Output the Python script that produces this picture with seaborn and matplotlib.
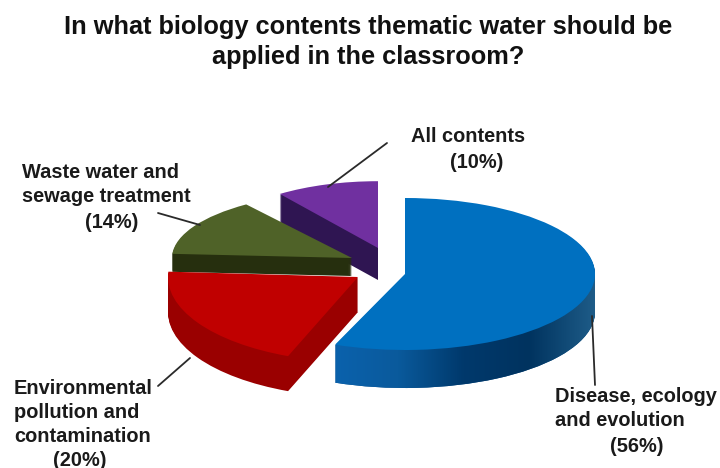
import matplotlib
matplotlib.use("Agg")
import matplotlib.pyplot as plt
import numpy as np
import seaborn as sns
from matplotlib.colors import LinearSegmentedColormap
from matplotlib.lines import Line2D
from matplotlib.path import Path
from matplotlib.transforms import Affine2D

sns.set_theme(style="white")
plt.rcParams["font.family"] = ["Liberation Sans", "DejaVu Sans"]

# Survey shares, clockwise from twelve o'clock
topics = ["Disease, ecology and evolution", "Environmental pollution and contamination",
          "Waste water and sewage treatment", "All contents"]
shares = [56, 20, 14, 10]
top_colors = sns.color_palette(["#0070c0", "#c00000", "#4f6228", "#7030a0"])
wall_colors = sns.color_palette(["#0a4f8a", "#9a0000", "#262f0e", "#2f1552"])
blue_wall_stops = ["#0b62ad", "#0a5a9c", "#00396c", "#00335f", "#1e5c88"]

# Exploded slice layout in canvas pixels: apex x, apex y, radius, extrusion depth
apex_x = [405, 358, 352, 378]
apex_y = [274, 277, 258, 248]
radii = [190, 190, 180, 167]
depths = [38, 35, 18, 32]
# Extra foreshortening per slice, for the perspective of the tilted disc
tilts = [1.0, 1.12, 0.92, 1.0]

title_lines = ["In what biology contents thematic water should be", "applied in the classroom?"]

WIDTH, HEIGHT = 720, 468
SQUASH = 0.40  # vertical foreshortening of the tilted disc

fig = plt.figure(figsize=(WIDTH / 100, HEIGHT / 100), dpi=100, facecolor="white")
ax = fig.add_axes([0, 0, 1, 1])


def to_y(py):
    return (HEIGHT - py) / SQUASH


def draw_layer(share, start, color, cx, py, radius, tilt, z):
    wedges, _ = ax.pie([share, 100 - share], startangle=start, counterclock=False,
                       colors=[color, (0, 0, 0, 0)], center=(cx, to_y(py)), radius=radius,
                       wedgeprops={"linewidth": 0}, frame=False)
    # Stretch vertically about the slice apex
    stretch = Affine2D().translate(0, -to_y(py)).scale(1, tilt).translate(0, to_y(py))
    for w in wedges:
        w.set_zorder(z)
        w.set_transform(stretch + ax.transData)
    return wedges[0]


# Cumulative start angle of each slice, walking clockwise
starts = 90 - 3.6 * np.concatenate([[0], np.cumsum(shares)[:-1]])

# Back slices first so the nearer ones overlap them
for z, i in zip([10, 20, 30, 40], [3, 2, 1, 0]):
    layers = [draw_layer(shares[i], starts[i], wall_colors[i], apex_x[i], apex_y[i] + d,
                         radii[i], tilts[i], z) for d in range(depths[i], 0, -1)]
    if i == 0:
        # Shaded band along the outer wall of the largest slice
        cmap = LinearSegmentedColormap.from_list("blue_wall", blue_wall_stops)
        band = ax.imshow(np.linspace(0, 1, 256)[None, :], cmap=cmap, aspect="auto",
                         extent=(332, 595, to_y(400), to_y(190)), zorder=z + 1)
        outline = Path.make_compound_path(*[w.get_path() for w in layers])
        band.set_clip_path(outline, transform=ax.transData)
    draw_layer(shares[i], starts[i], top_colors[i], apex_x[i], apex_y[i], radii[i], tilts[i], z + 2)

ax.set_aspect("auto")
ax.set_xlim(0, WIDTH)
ax.set_ylim(0, HEIGHT / SQUASH)
ax.axis("off")


def label(px, py, text, ha="left", size=14.4):
    fig.text(px / WIDTH, 1 - py / HEIGHT, text, ha=ha, va="center",
             fontsize=size, fontweight="bold", color="#1a1a1a")


fig.text(368 / WIDTH, 1 - 27 / HEIGHT, title_lines[0], ha="center", va="center",
         fontsize=18.3, fontweight="bold", color="#111111")
fig.text(368 / WIDTH, 1 - 57 / HEIGHT, title_lines[1], ha="center", va="center",
         fontsize=18.3, fontweight="bold", color="#111111")

label(468, 136, "All contents", ha="center")
label(477, 163, f"({shares[3]}%)", ha="center")
label(22, 173, "Waste water and")
label(22, 197, "sewage treatment")
label(112, 223, f"({shares[2]}%)", ha="center")
label(14, 388, "Environmental")
label(14, 412, "pollution and")
label(14, 436, "contamination")
label(80, 460, f"({shares[1]}%)", ha="center")
label(555, 397, "Disease, ecology")
label(555, 421, "and evolution")
label(637, 446, f"({shares[0]}%)", ha="center")

# Leader lines from the labels to their slices
leaders = [((387, 143), (328, 187)), ((158, 213), (200, 225)),
           ((158, 386), (190, 358)), ((592, 316), (595, 385))]
for (x0, y0), (x1, y1) in leaders:
    fig.add_artist(Line2D([x0 / WIDTH, x1 / WIDTH], [1 - y0 / HEIGHT, 1 - y1 / HEIGHT],
                          color="#2a2a2a", linewidth=1.3, zorder=100))

fig.savefig("out.png", dpi=100)
